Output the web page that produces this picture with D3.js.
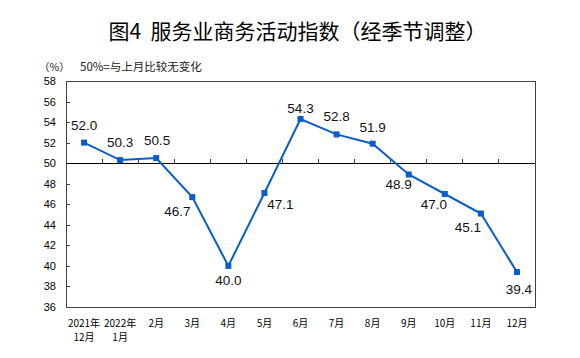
<!DOCTYPE html>
<html><head><meta charset="utf-8">
<script src="https://cdn.jsdelivr.net/npm/d3@7"></script>
<style>
html,body{margin:0;padding:0;background:#fff;}
svg{display:block;}
</style></head>
<body>
<svg id="c" width="580" height="358"></svg>
<script>
const categories = ["2021年\n12月","2022年\n1月","2月","3月","4月","5月","6月","7月","8月","9月","10月","11月","12月"];
const values = [52.0,50.3,50.5,46.7,40.0,47.1,54.3,52.8,51.9,48.9,47.0,45.1,39.4];
const yTicks = [36,38,40,42,44,46,48,50,52,54,56,58];
const titleText = "图4  服务业商务活动指数（经季节调整）";
const unitText = "（%）";
const noteText = "50%=与上月比较无变化";

// label placement (style), dx/dy of label centre relative to point
const labelOffset = [[0,-18],[0,-18],[1,-18],[-15,14],[0,14],[16,11],[0,-11],[0,-18],[0,-17],[-10,10],[-11,10],[-13,13],[2,17]];

const svg = d3.select("#c");
const L=66, R=535, T=81, B=307;
const cjk = "'Noto Sans CJK SC', sans-serif";
const lat = "'Liberation Sans', Arial, sans-serif";

const x = d3.scaleBand().domain(categories).range([L,R]).padding(0);
const y = d3.scaleLinear().domain([36,58]).range([B,T]);

// title
svg.append("text").attr("x",297.5).attr("y",39).attr("text-anchor","middle")
  .attr("font-family",cjk).attr("font-size",21).attr("fill","#000").style("white-space","pre").text(titleText);
svg.append("text").attr("x",39).attr("y",71).attr("font-family",cjk).attr("font-size",10.5).attr("fill","#222").text(unitText);
svg.append("text").attr("x",80).attr("y",71).attr("font-family",cjk).attr("font-size",11.5).attr("fill","#222").text(noteText);

// frame
svg.append("rect").attr("x",L).attr("y",T).attr("width",R-L).attr("height",B-T)
  .attr("fill","none").attr("stroke","#404040").attr("stroke-width",1).attr("shape-rendering","crispEdges");

// y axis
const yAxis = d3.axisLeft(y).tickValues(yTicks).tickSize(-4).tickPadding(10).tickFormat(d3.format("d"));
const ga = svg.append("g").attr("transform",`translate(${L},0)`).call(yAxis);
ga.select(".domain").remove();
ga.selectAll(".tick line").attr("stroke","#404040").attr("shape-rendering","crispEdges");
ga.selectAll(".tick text").attr("font-family",lat).attr("font-size",11).attr("fill","#000");

// 50 reference line with up ticks at band boundaries
const gx = svg.append("g").attr("transform",`translate(0,${y(50)})`);
gx.append("line").attr("x1",L).attr("x2",R).attr("y1",0).attr("y2",0).attr("stroke","#000").attr("shape-rendering","crispEdges");
const bounds = categories.slice(1).map(c=>x(c));
gx.selectAll("line.t").data(bounds).join("line").attr("class","t")
  .attr("x1",d=>d).attr("x2",d=>d).attr("y1",0).attr("y2",-4).attr("stroke","#404040").attr("shape-rendering","crispEdges");

// x labels
const xl = svg.append("g");
categories.forEach(c=>{
  const lines = c.split("\n");
  const t = xl.append("text").attr("x",x(c)+x.bandwidth()/2).attr("y",327).attr("text-anchor","middle")
    .attr("font-family",cjk).attr("font-size",10).attr("fill","#000");
  lines.forEach((ln,i)=>t.append("tspan").attr("x",x(c)+x.bandwidth()/2).attr("dy",i?14:0).text(ln));
});

// line
const cx = (d,i)=>x(categories[i])+x.bandwidth()/2;
const line = d3.line().x((d,i)=>cx(d,i)).y(d=>y(d));
svg.append("path").datum(values).attr("d",line).attr("fill","none").attr("stroke","#0a5ccc").attr("stroke-width",2);
svg.selectAll("rect.m").data(values).join("rect").attr("class","m")
  .attr("x",(d,i)=>cx(d,i)-3).attr("y",d=>y(d)-3).attr("width",6).attr("height",6).attr("fill","#0a5ccc");

// labels
svg.selectAll("text.v").data(values).join("text").attr("class","v")
  .attr("x",(d,i)=>cx(d,i)+labelOffset[i][0]).attr("y",(d,i)=>y(d)+labelOffset[i][1]+5)
  .attr("text-anchor","middle").attr("font-family",lat).attr("font-size",13.5).attr("fill","#111")
  .text(d=>d.toFixed(1));
</script>
</body></html>
